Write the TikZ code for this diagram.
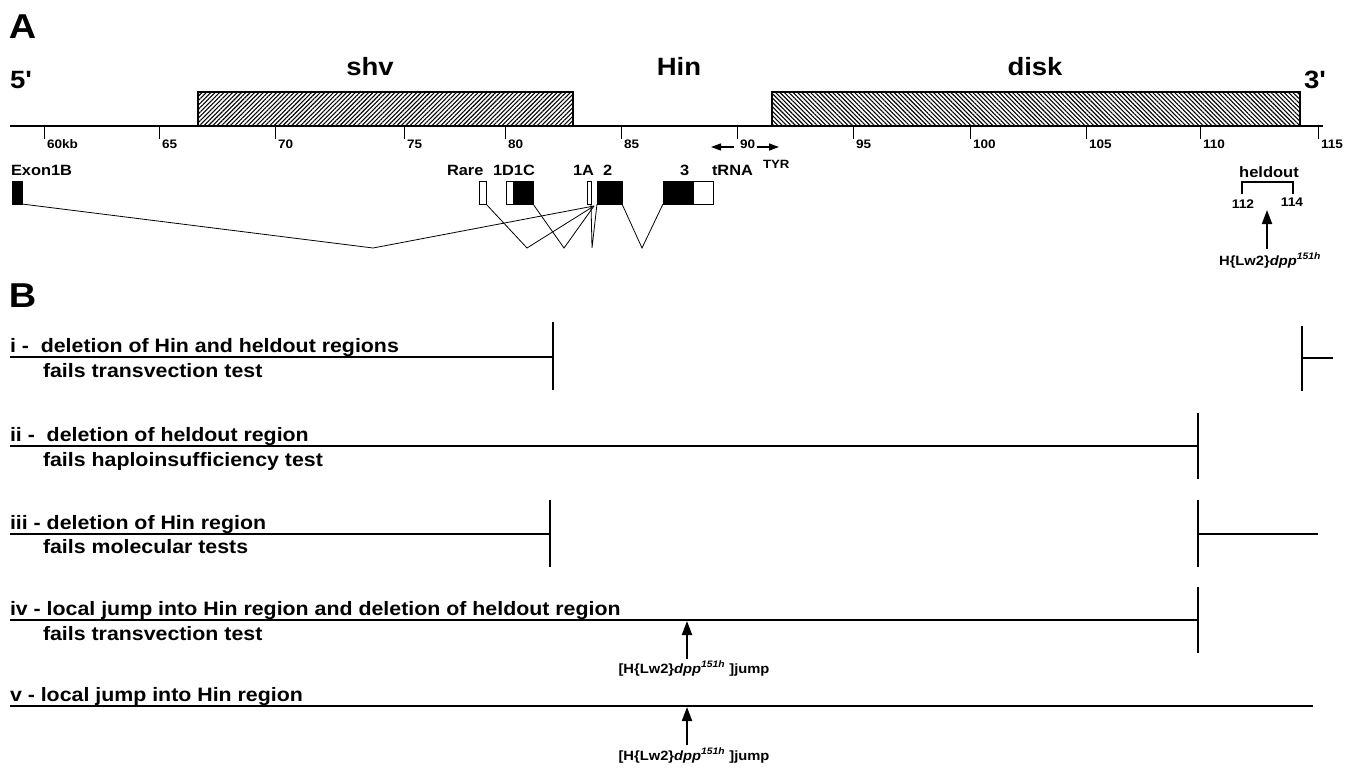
\documentclass[tikz,border=0pt]{standalone}
\usepackage{fontspec}
\setmainfont{Liberation Sans}[FakeStretch=1.1]
\usetikzlibrary{arrows.meta,patterns.meta}
\begin{document}
\begin{tikzpicture}[x=1pt,y=-1pt,
  every node/.style={inner sep=0pt, outer sep=0pt},
  big/.style={font=\bfseries\fontsize{34.5}{36}\selectfont, anchor=base west},
  region/.style={font=\bfseries\fontsize{25}{27}\selectfont, anchor=base},
  prime/.style={font=\bfseries\fontsize{25}{27}\selectfont, anchor=base west},
  ticklbl/.style={font=\bfseries\fontsize{12.3}{14}\selectfont, anchor=base west},
  exlbl/.style={font=\bfseries\fontsize{14.9}{16}\selectfont, anchor=base west},
  rowlbl/.style={font=\bfseries\fontsize{19.4}{21}\selectfont, anchor=base west},
  small/.style={font=\bfseries\fontsize{13.4}{15}\selectfont, anchor=base},
  exon/.style={draw, line width=0.9pt, minimum height=23pt, anchor=north west, fill=white},
  blackexon/.style={exon, fill=black},
  splice/.style={line width=0.8pt},
  axisline/.style={line width=2pt},
  tickline/.style={line width=1pt},
  rowline/.style={line width=2pt},
  bigarrow/.style={line width=2pt, -{Triangle[length=14pt,width=10pt]}},
  smallarrow/.style={line width=1.3pt, -{Triangle[length=10pt,width=7pt]}},
  hatchA/.style={draw, line width=1.3pt, pattern={Lines[angle=45,distance=3.1pt,line width=1.1pt]}},
  hatchB/.style={draw, line width=1.3pt, pattern={Lines[angle=-45,distance=3.1pt,line width=1.1pt]}}
]
\useasboundingbox (0,0) rectangle (1356,768);
\fill[white] (0,0) rectangle (1356,768);

% ---------- Panel A ----------
\node[big] (A) at (9,38) {A};
\node[prime] (five) at (10,88) {5\textquotesingle};
\node[prime] (three) at (1304,88) {3\textquotesingle};
\node[region] (shv) at (370,75) {shv};
\node[region] (hin) at (679,75) {Hin};
\node[region] (disk) at (1035,75) {disk};

\draw[hatchA] (198,92) rectangle (573,126);
\draw[hatchB] (772,92) rectangle (1300,126);

\coordinate (ax0) at (10,126);
\coordinate (ax1) at (1323,126);
\draw[axisline] (ax0) -- (ax1);
\foreach \x/\l in {44/60kb,159/65,275/70,404/75,505/80,621/85,737/90,853/95,970/100,1086/105,1200/110,1318/115}{
  \draw[tickline] (\x,126) -- (\x,139);
  \node[ticklbl] (t\x) at (\x+3,148) {\l};
}
% tRNA direction arrows
\coordinate (tl0) at (734,147); \coordinate (tl1) at (711,147);
\coordinate (tr0) at (757,147); \coordinate (tr1) at (779,147);
\draw[smallarrow] (tl0) -- (tl1);
\draw[smallarrow] (tr0) -- (tr1);

% exon labels
\node[exlbl] (lEx) at (11,175) {Exon1B};
\node[exlbl] (lRare) at (447,175) {Rare};
\node[exlbl] (l1D) at (493,175) {1D1C};
\node[exlbl] (l1A) at (573,175) {1A};
\node[exlbl] (l2) at (603,175) {2};
\node[exlbl] (l3) at (680,175) {3};
\node[exlbl] (ltrna) at (712,175) {tRNA};
\node[font=\bfseries\fontsize{12}{13}\selectfont, anchor=base west] (tyr) at (763,168) {TYR};

% exons
\node[blackexon, minimum width=10pt] (ex1B) at (12,181) {};
\node[exon, minimum width=7pt] (rare) at (479,181) {};
\node[exon, minimum width=7pt] (d1) at (506,181) {};
\node[blackexon, minimum width=20pt] (c1) at (513,181) {};
\node[exon, minimum width=4pt] (a1) at (587,181) {};
\node[blackexon, minimum width=25pt] (e2) at (597,181) {};
\node[blackexon, minimum width=30pt] (e3a) at (663,181) {};
\node[exon, minimum width=20pt] (e3b) at (693,181) {};

% splicing
\coordinate (v1) at (373,248);
\coordinate (v2) at (527,248);
\coordinate (v3) at (564,248);
\coordinate (v4) at (592,248);
\coordinate (v5) at (642,248);
\coordinate (acc) at (594,206);
\draw[splice] (ex1B.south east) -- (v1) -- (acc);
\draw[splice] (rare.south east) -- (v2) -- (acc);
\draw[splice] (c1.south east) -- (v3) -- (acc);
\draw[splice] (a1.south east) -- (v4) -- (e2.south west);
\draw[splice] (e2.south east) -- (v5) -- (e3a.south west);

% heldout
\node[font=\bfseries\fontsize{15}{16}\selectfont, anchor=base] (held) at (1269,177) {heldout};
\draw[line width=1.5pt] (1242,194) -- (1242,182) -- (1293,182) -- (1293,194);
\node[font=\bfseries\fontsize{12.5}{14}\selectfont, anchor=base] (n112) at (1243,208) {112};
\node[font=\bfseries\fontsize{12.5}{14}\selectfont, anchor=base] (n114) at (1292,206) {114};
\node[small] (hlab) at (1270,265) {H\{Lw2\}\textit{dpp}\textsuperscript{\textit{151h}}};
\coordinate (hA) at (1267,249);
\coordinate (hB) at (1267,210);
\draw[bigarrow] (hA) -- (hB);

% ---------- Panel B ----------
\node[big] (B) at (9,307) {B};

% row i
\node[rowlbl] (ri) at (10,352) {i -~~deletion of Hin and heldout regions};
\node[rowlbl] (ri2) at (43,377) {fails transvection test};
\draw[rowline] (10,357) -- (553,357);
\draw[rowline] (553,322) -- (553,390);
\draw[rowline] (1302,326) -- (1302,391);
\draw[rowline] (1302,358) -- (1333,358);

% row ii
\node[rowlbl] (rii) at (10,441) {ii -~~deletion of heldout region};
\node[rowlbl] (rii2) at (43,466) {fails haploinsufficiency test};
\draw[rowline] (10,446) -- (1198,446);
\draw[rowline] (1198,413) -- (1198,479);

% row iii
\node[rowlbl] (riii) at (10,529) {iii - deletion of Hin region};
\node[rowlbl] (riii2) at (43,553) {fails molecular tests};
\draw[rowline] (10,534) -- (550,534);
\draw[rowline] (550,500) -- (550,567);
\draw[rowline] (1198,500) -- (1198,567);
\draw[rowline] (1198,534) -- (1318,534);

% row iv
\node[rowlbl] (riv) at (10,615) {iv - local jump into Hin region and deletion of heldout region};
\node[rowlbl] (riv2) at (43,640) {fails transvection test};
\draw[rowline] (10,620) -- (1198,620);
\draw[rowline] (1198,587) -- (1198,653);
\coordinate (jA) at (687,659);
\coordinate (jB) at (687,621);
\draw[bigarrow] (jA) -- (jB);
\node[small] (jl1) at (694,673) {[H\{Lw2\}\textit{dpp}\textsuperscript{\textit{151h}} ]jump};

% row v
\node[rowlbl] (rv) at (10,701) {v - local jump into Hin region};
\draw[rowline] (10,706) -- (1313,706);
\coordinate (kA) at (687,745);
\coordinate (kB) at (687,707);
\draw[bigarrow] (kA) -- (kB);
\node[small] (jl2) at (694,760) {[H\{Lw2\}\textit{dpp}\textsuperscript{\textit{151h}} ]jump};
\end{tikzpicture}
\end{document}
